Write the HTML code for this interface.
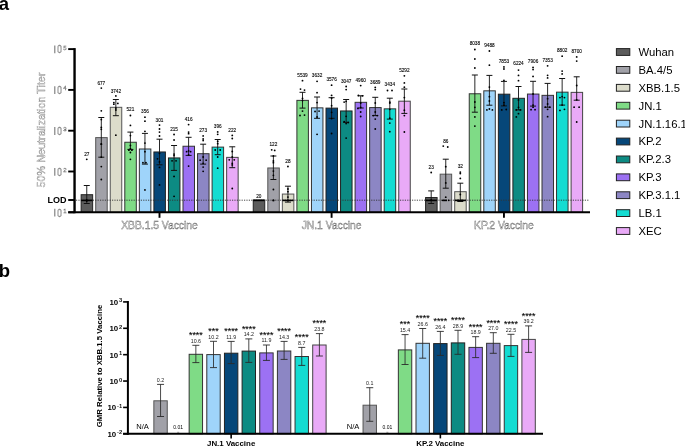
<!DOCTYPE html>
<html><head><meta charset="utf-8"><style>
html,body{margin:0;padding:0;background:#fff;width:685px;height:447px;overflow:hidden}
svg{display:block;will-change:transform}
text{font-family:"Liberation Sans", sans-serif}
</style></head><body>
<svg width="685" height="447" viewBox="0 0 685 447">
<rect width="685" height="447" fill="#fff"/>
<text x="-1.2" y="10.2" font-size="18.5" font-weight="bold" fill="#000">a</text>
<text x="-1.2" y="276.8" font-size="18.5" font-weight="bold" fill="#000">b</text>
<rect x="81.15" y="194.70" width="11.5" height="17.60" fill="#5c5c5c" stroke="#222" stroke-width="1"/>
<rect x="95.70" y="137.61" width="11.5" height="74.69" fill="#a1a1a8" stroke="#555" stroke-width="1"/>
<rect x="110.25" y="107.32" width="11.5" height="104.98" fill="#dcdccb" stroke="#555" stroke-width="1"/>
<rect x="124.80" y="142.25" width="11.5" height="70.05" fill="#7fdb86" stroke="#333" stroke-width="1"/>
<rect x="139.35" y="149.00" width="11.5" height="63.30" fill="#9fd4fa" stroke="#333" stroke-width="1"/>
<rect x="153.90" y="151.97" width="11.5" height="60.33" fill="#064779" stroke="#222" stroke-width="1"/>
<rect x="168.45" y="157.94" width="11.5" height="54.36" fill="#0d8b83" stroke="#222" stroke-width="1"/>
<rect x="183.00" y="146.24" width="11.5" height="66.06" fill="#9c71f3" stroke="#333" stroke-width="1"/>
<rect x="197.55" y="153.70" width="11.5" height="58.60" fill="#8c86c4" stroke="#333" stroke-width="1"/>
<rect x="212.10" y="147.11" width="11.5" height="65.19" fill="#14dcd2" stroke="#333" stroke-width="1"/>
<rect x="226.65" y="157.37" width="11.5" height="54.93" fill="#e9aaf7" stroke="#444" stroke-width="1"/>
<rect x="253.25" y="200.02" width="11.5" height="12.28" fill="#5c5c5c" stroke="#222" stroke-width="1"/>
<rect x="267.80" y="167.98" width="11.5" height="44.32" fill="#a1a1a8" stroke="#555" stroke-width="1"/>
<rect x="282.35" y="194.06" width="11.5" height="18.24" fill="#dcdccb" stroke="#555" stroke-width="1"/>
<rect x="296.90" y="100.37" width="11.5" height="111.93" fill="#7fdb86" stroke="#333" stroke-width="1"/>
<rect x="311.45" y="107.85" width="11.5" height="104.45" fill="#9fd4fa" stroke="#333" stroke-width="1"/>
<rect x="326.00" y="108.12" width="11.5" height="104.18" fill="#064779" stroke="#222" stroke-width="1"/>
<rect x="340.55" y="110.96" width="11.5" height="101.34" fill="#0d8b83" stroke="#222" stroke-width="1"/>
<rect x="355.10" y="102.32" width="11.5" height="109.98" fill="#9c71f3" stroke="#333" stroke-width="1"/>
<rect x="369.65" y="107.57" width="11.5" height="104.73" fill="#8c86c4" stroke="#333" stroke-width="1"/>
<rect x="384.20" y="108.84" width="11.5" height="103.46" fill="#14dcd2" stroke="#333" stroke-width="1"/>
<rect x="398.75" y="101.18" width="11.5" height="111.12" fill="#e9aaf7" stroke="#444" stroke-width="1"/>
<rect x="425.60" y="197.54" width="11.5" height="14.76" fill="#5c5c5c" stroke="#222" stroke-width="1"/>
<rect x="440.15" y="174.17" width="11.5" height="38.13" fill="#a1a1a8" stroke="#555" stroke-width="1"/>
<rect x="454.70" y="191.69" width="11.5" height="20.61" fill="#dcdccb" stroke="#555" stroke-width="1"/>
<rect x="469.25" y="93.77" width="11.5" height="118.53" fill="#7fdb86" stroke="#333" stroke-width="1"/>
<rect x="483.80" y="90.83" width="11.5" height="121.47" fill="#9fd4fa" stroke="#333" stroke-width="1"/>
<rect x="498.35" y="94.18" width="11.5" height="118.12" fill="#064779" stroke="#222" stroke-width="1"/>
<rect x="512.90" y="98.30" width="11.5" height="114.00" fill="#0d8b83" stroke="#222" stroke-width="1"/>
<rect x="527.45" y="94.06" width="11.5" height="118.24" fill="#9c71f3" stroke="#333" stroke-width="1"/>
<rect x="542.00" y="95.35" width="11.5" height="116.95" fill="#8c86c4" stroke="#333" stroke-width="1"/>
<rect x="556.55" y="92.16" width="11.5" height="120.14" fill="#14dcd2" stroke="#333" stroke-width="1"/>
<rect x="571.10" y="92.37" width="11.5" height="119.93" fill="#e9aaf7" stroke="#444" stroke-width="1"/>
<line x1="76" y1="200.2" x2="589" y2="200.2" stroke="#333" stroke-width="0.9" stroke-dasharray="1.2 1.2"/>
<line x1="86.75" y1="185.5" x2="86.75" y2="203.5" stroke="#111" stroke-width="0.9"/>
<line x1="83.75" y1="185.5" x2="89.75" y2="185.5" stroke="#111" stroke-width="1"/>
<line x1="83.75" y1="203.5" x2="89.75" y2="203.5" stroke="#111" stroke-width="1"/>
<circle cx="86.75" cy="159.3" r="0.92" fill="#000"/>
<circle cx="86.75" cy="200" r="0.92" fill="#000"/>
<circle cx="86.75" cy="201" r="0.92" fill="#000"/>
<line x1="81.15" y1="200.4" x2="92.35" y2="200.4" stroke="#000" stroke-width="1.6"/>
<text x="86.75" y="156.20" font-size="4.7" text-anchor="middle" fill="#000" stroke="#000" stroke-width="0.1">27</text>
<line x1="101.30" y1="117.5" x2="101.30" y2="157.2" stroke="#111" stroke-width="0.9"/>
<line x1="98.30" y1="117.5" x2="104.30" y2="117.5" stroke="#111" stroke-width="1"/>
<line x1="98.30" y1="157.2" x2="104.30" y2="157.2" stroke="#111" stroke-width="1"/>
<circle cx="101.30" cy="88.1" r="0.92" fill="#000"/>
<circle cx="101.30" cy="110.8" r="0.92" fill="#000"/>
<circle cx="101.30" cy="119.6" r="0.92" fill="#000"/>
<circle cx="101.30" cy="127.4" r="0.92" fill="#000"/>
<circle cx="101.30" cy="129.3" r="0.92" fill="#000"/>
<circle cx="101.30" cy="143.9" r="0.92" fill="#000"/>
<circle cx="101.30" cy="144.2" r="0.92" fill="#000"/>
<circle cx="101.30" cy="157.2" r="0.92" fill="#000"/>
<circle cx="101.30" cy="166.6" r="0.92" fill="#000"/>
<circle cx="101.30" cy="179.5" r="0.92" fill="#000"/>
<text x="101.30" y="84.70" font-size="4.7" text-anchor="middle" fill="#000" stroke="#000" stroke-width="0.1">677</text>
<line x1="115.85" y1="99.5" x2="115.85" y2="115.7" stroke="#111" stroke-width="0.9"/>
<line x1="112.85" y1="99.5" x2="118.85" y2="99.5" stroke="#111" stroke-width="1"/>
<line x1="112.85" y1="115.7" x2="118.85" y2="115.7" stroke="#111" stroke-width="1"/>
<circle cx="115.85" cy="95.9" r="0.92" fill="#000"/>
<circle cx="113.85" cy="102.6" r="0.92" fill="#000"/>
<circle cx="113.85" cy="104.2" r="0.92" fill="#000"/>
<circle cx="117.85" cy="103.4" r="0.92" fill="#000"/>
<circle cx="115.85" cy="108.1" r="0.92" fill="#000"/>
<circle cx="115.85" cy="135.2" r="0.92" fill="#000"/>
<circle cx="115.85" cy="110" r="0.92" fill="#000"/>
<text x="115.85" y="92.50" font-size="4.7" text-anchor="middle" fill="#000" stroke="#000" stroke-width="0.1">3742</text>
<line x1="130.40" y1="132.1" x2="130.40" y2="149.4" stroke="#111" stroke-width="0.9"/>
<line x1="127.40" y1="132.1" x2="133.40" y2="132.1" stroke="#111" stroke-width="1"/>
<line x1="127.40" y1="149.4" x2="133.40" y2="149.4" stroke="#111" stroke-width="1"/>
<circle cx="130.40" cy="115.5" r="0.92" fill="#000"/>
<circle cx="130.40" cy="125.4" r="0.92" fill="#000"/>
<circle cx="130.40" cy="135.6" r="0.92" fill="#000"/>
<circle cx="130.40" cy="145.5" r="0.92" fill="#000"/>
<circle cx="130.40" cy="148.6" r="0.92" fill="#000"/>
<circle cx="128.90" cy="150.2" r="0.92" fill="#000"/>
<circle cx="131.90" cy="150.2" r="0.92" fill="#000"/>
<circle cx="130.40" cy="152.5" r="0.92" fill="#000"/>
<circle cx="130.40" cy="159.3" r="0.92" fill="#000"/>
<text x="130.40" y="111.30" font-size="4.7" text-anchor="middle" fill="#000" stroke="#000" stroke-width="0.1">521</text>
<line x1="144.95" y1="133.4" x2="144.95" y2="164.1" stroke="#111" stroke-width="0.9"/>
<line x1="141.95" y1="133.4" x2="147.95" y2="133.4" stroke="#111" stroke-width="1"/>
<line x1="141.95" y1="164.1" x2="147.95" y2="164.1" stroke="#111" stroke-width="1"/>
<circle cx="144.95" cy="117.2" r="0.92" fill="#000"/>
<circle cx="144.95" cy="121.2" r="0.92" fill="#000"/>
<circle cx="144.95" cy="131.3" r="0.92" fill="#000"/>
<circle cx="144.95" cy="143.1" r="0.92" fill="#000"/>
<circle cx="144.95" cy="151.7" r="0.92" fill="#000"/>
<circle cx="142.95" cy="162.7" r="0.92" fill="#000"/>
<circle cx="145.95" cy="162.7" r="0.92" fill="#000"/>
<circle cx="144.95" cy="189.9" r="0.92" fill="#000"/>
<text x="144.95" y="112.90" font-size="4.7" text-anchor="middle" fill="#000" stroke="#000" stroke-width="0.1">356</text>
<line x1="159.50" y1="139.2" x2="159.50" y2="164.8" stroke="#111" stroke-width="0.9"/>
<line x1="156.50" y1="139.2" x2="162.50" y2="139.2" stroke="#111" stroke-width="1"/>
<line x1="156.50" y1="164.8" x2="162.50" y2="164.8" stroke="#111" stroke-width="1"/>
<circle cx="159.50" cy="125.1" r="0.92" fill="#000"/>
<circle cx="159.50" cy="129" r="0.92" fill="#000"/>
<circle cx="159.50" cy="132.1" r="0.92" fill="#000"/>
<circle cx="159.50" cy="136" r="0.92" fill="#000"/>
<circle cx="159.50" cy="153.3" r="0.92" fill="#000"/>
<circle cx="157.50" cy="158.8" r="0.92" fill="#000"/>
<circle cx="159.50" cy="161.9" r="0.92" fill="#000"/>
<circle cx="159.50" cy="167.4" r="0.92" fill="#000"/>
<circle cx="159.50" cy="184.9" r="0.92" fill="#000"/>
<text x="159.50" y="121.50" font-size="4.7" text-anchor="middle" fill="#000" stroke="#000" stroke-width="0.1">301</text>
<line x1="174.05" y1="145.5" x2="174.05" y2="170.4" stroke="#111" stroke-width="0.9"/>
<line x1="171.05" y1="145.5" x2="177.05" y2="145.5" stroke="#111" stroke-width="1"/>
<line x1="171.05" y1="170.4" x2="177.05" y2="170.4" stroke="#111" stroke-width="1"/>
<circle cx="174.05" cy="134.5" r="0.92" fill="#000"/>
<circle cx="174.05" cy="140" r="0.92" fill="#000"/>
<circle cx="174.05" cy="154.1" r="0.92" fill="#000"/>
<circle cx="174.05" cy="155.6" r="0.92" fill="#000"/>
<circle cx="172.05" cy="160.8" r="0.92" fill="#000"/>
<circle cx="176.05" cy="160.8" r="0.92" fill="#000"/>
<circle cx="174.05" cy="176.4" r="0.92" fill="#000"/>
<circle cx="174.05" cy="196.3" r="0.92" fill="#000"/>
<text x="174.05" y="131.10" font-size="4.7" text-anchor="middle" fill="#000" stroke="#000" stroke-width="0.1">215</text>
<line x1="188.60" y1="137.3" x2="188.60" y2="155.4" stroke="#111" stroke-width="0.9"/>
<line x1="185.60" y1="137.3" x2="191.60" y2="137.3" stroke="#111" stroke-width="1"/>
<line x1="185.60" y1="155.4" x2="191.60" y2="155.4" stroke="#111" stroke-width="1"/>
<circle cx="188.60" cy="124.6" r="0.92" fill="#000"/>
<circle cx="188.60" cy="132.1" r="0.92" fill="#000"/>
<circle cx="188.60" cy="133.7" r="0.92" fill="#000"/>
<circle cx="188.60" cy="150.9" r="0.92" fill="#000"/>
<circle cx="186.60" cy="151.7" r="0.92" fill="#000"/>
<circle cx="190.60" cy="151.7" r="0.92" fill="#000"/>
<circle cx="188.60" cy="154.9" r="0.92" fill="#000"/>
<circle cx="188.60" cy="166.1" r="0.92" fill="#000"/>
<text x="188.60" y="120.70" font-size="4.7" text-anchor="middle" fill="#000" stroke="#000" stroke-width="0.1">416</text>
<line x1="203.15" y1="144.2" x2="203.15" y2="164.1" stroke="#111" stroke-width="0.9"/>
<line x1="200.15" y1="144.2" x2="206.15" y2="144.2" stroke="#111" stroke-width="1"/>
<line x1="200.15" y1="164.1" x2="206.15" y2="164.1" stroke="#111" stroke-width="1"/>
<circle cx="203.15" cy="135.9" r="0.92" fill="#000"/>
<circle cx="203.15" cy="139" r="0.92" fill="#000"/>
<circle cx="203.15" cy="140.6" r="0.92" fill="#000"/>
<circle cx="203.15" cy="157" r="0.92" fill="#000"/>
<circle cx="200.15" cy="160.2" r="0.92" fill="#000"/>
<circle cx="206.15" cy="160.2" r="0.92" fill="#000"/>
<circle cx="203.15" cy="163.3" r="0.92" fill="#000"/>
<circle cx="203.15" cy="167.1" r="0.92" fill="#000"/>
<circle cx="203.15" cy="171.3" r="0.92" fill="#000"/>
<text x="203.15" y="132.40" font-size="4.7" text-anchor="middle" fill="#000" stroke="#000" stroke-width="0.1">273</text>
<line x1="217.70" y1="139.5" x2="217.70" y2="154.7" stroke="#111" stroke-width="0.9"/>
<line x1="214.70" y1="139.5" x2="220.70" y2="139.5" stroke="#111" stroke-width="1"/>
<line x1="214.70" y1="154.7" x2="220.70" y2="154.7" stroke="#111" stroke-width="1"/>
<circle cx="217.70" cy="131.9" r="0.92" fill="#000"/>
<circle cx="217.70" cy="134.3" r="0.92" fill="#000"/>
<circle cx="217.70" cy="141.3" r="0.92" fill="#000"/>
<circle cx="217.70" cy="143.7" r="0.92" fill="#000"/>
<circle cx="215.20" cy="150" r="0.92" fill="#000"/>
<circle cx="220.20" cy="150" r="0.92" fill="#000"/>
<circle cx="217.70" cy="157" r="0.92" fill="#000"/>
<circle cx="217.70" cy="168.2" r="0.92" fill="#000"/>
<text x="217.70" y="127.70" font-size="4.7" text-anchor="middle" fill="#000" stroke="#000" stroke-width="0.1">396</text>
<line x1="232.25" y1="146.8" x2="232.25" y2="167.7" stroke="#111" stroke-width="0.9"/>
<line x1="229.25" y1="146.8" x2="235.25" y2="146.8" stroke="#111" stroke-width="1"/>
<line x1="229.25" y1="167.7" x2="235.25" y2="167.7" stroke="#111" stroke-width="1"/>
<circle cx="232.25" cy="135.4" r="0.92" fill="#000"/>
<circle cx="232.25" cy="138.5" r="0.92" fill="#000"/>
<circle cx="232.25" cy="151.5" r="0.92" fill="#000"/>
<circle cx="232.25" cy="157" r="0.92" fill="#000"/>
<circle cx="229.25" cy="159.8" r="0.92" fill="#000"/>
<circle cx="234.25" cy="159.8" r="0.92" fill="#000"/>
<circle cx="232.25" cy="163.3" r="0.92" fill="#000"/>
<circle cx="232.25" cy="164.9" r="0.92" fill="#000"/>
<circle cx="232.25" cy="188.5" r="0.92" fill="#000"/>
<text x="232.25" y="131.70" font-size="4.7" text-anchor="middle" fill="#000" stroke="#000" stroke-width="0.1">222</text>
<line x1="253.25" y1="200.4" x2="264.45" y2="200.4" stroke="#000" stroke-width="1.6"/>
<text x="258.85" y="197.80" font-size="4.7" text-anchor="middle" fill="#000" stroke="#000" stroke-width="0.1">20</text>
<line x1="273.40" y1="156" x2="273.40" y2="179.5" stroke="#111" stroke-width="0.9"/>
<line x1="270.40" y1="156" x2="276.40" y2="156" stroke="#111" stroke-width="1"/>
<line x1="270.40" y1="179.5" x2="276.40" y2="179.5" stroke="#111" stroke-width="1"/>
<circle cx="271.70" cy="149.8" r="0.92" fill="#000"/>
<circle cx="274.70" cy="150.4" r="0.92" fill="#000"/>
<circle cx="273.40" cy="156" r="0.92" fill="#000"/>
<circle cx="273.40" cy="161" r="0.92" fill="#000"/>
<circle cx="273.40" cy="162.7" r="0.92" fill="#000"/>
<circle cx="273.40" cy="171.1" r="0.92" fill="#000"/>
<circle cx="273.40" cy="175.3" r="0.92" fill="#000"/>
<circle cx="273.40" cy="189.5" r="0.92" fill="#000"/>
<circle cx="273.40" cy="200.4" r="0.92" fill="#000"/>
<line x1="272.50" y1="200.4" x2="274.30" y2="200.4" stroke="#000" stroke-width="1.6"/>
<text x="273.40" y="145.80" font-size="4.7" text-anchor="middle" fill="#000" stroke="#000" stroke-width="0.1">122</text>
<line x1="287.95" y1="186.2" x2="287.95" y2="202.1" stroke="#111" stroke-width="0.9"/>
<line x1="284.95" y1="186.2" x2="290.95" y2="186.2" stroke="#111" stroke-width="1"/>
<line x1="284.95" y1="202.1" x2="290.95" y2="202.1" stroke="#111" stroke-width="1"/>
<circle cx="287.95" cy="166.5" r="0.92" fill="#000"/>
<circle cx="287.95" cy="189" r="0.92" fill="#000"/>
<circle cx="287.95" cy="191.7" r="0.92" fill="#000"/>
<circle cx="287.95" cy="197.1" r="0.92" fill="#000"/>
<circle cx="287.95" cy="200.4" r="0.92" fill="#000"/>
<line x1="282.35" y1="200.4" x2="293.55" y2="200.4" stroke="#000" stroke-width="1.6"/>
<text x="287.95" y="163.40" font-size="4.7" text-anchor="middle" fill="#000" stroke="#000" stroke-width="0.1">28</text>
<line x1="302.50" y1="92.3" x2="302.50" y2="108.1" stroke="#111" stroke-width="0.9"/>
<line x1="299.50" y1="92.3" x2="305.50" y2="92.3" stroke="#111" stroke-width="1"/>
<line x1="299.50" y1="108.1" x2="305.50" y2="108.1" stroke="#111" stroke-width="1"/>
<circle cx="302.50" cy="80.7" r="0.92" fill="#000"/>
<circle cx="300.50" cy="89.1" r="0.92" fill="#000"/>
<circle cx="304.50" cy="90.1" r="0.92" fill="#000"/>
<circle cx="302.50" cy="98.5" r="0.92" fill="#000"/>
<circle cx="302.50" cy="100.6" r="0.92" fill="#000"/>
<circle cx="302.50" cy="111.1" r="0.92" fill="#000"/>
<circle cx="300.00" cy="115.5" r="0.92" fill="#000"/>
<circle cx="304.50" cy="115.1" r="0.92" fill="#000"/>
<text x="302.50" y="76.60" font-size="4.7" text-anchor="middle" fill="#000" stroke="#000" stroke-width="0.1">5539</text>
<line x1="317.05" y1="97" x2="317.05" y2="118.3" stroke="#111" stroke-width="0.9"/>
<line x1="314.05" y1="97" x2="320.05" y2="97" stroke="#111" stroke-width="1"/>
<line x1="314.05" y1="118.3" x2="320.05" y2="118.3" stroke="#111" stroke-width="1"/>
<circle cx="317.05" cy="81.3" r="0.92" fill="#000"/>
<circle cx="317.05" cy="92.7" r="0.92" fill="#000"/>
<circle cx="317.05" cy="102.6" r="0.92" fill="#000"/>
<circle cx="315.05" cy="111.5" r="0.92" fill="#000"/>
<circle cx="319.05" cy="111.1" r="0.92" fill="#000"/>
<circle cx="317.05" cy="117" r="0.92" fill="#000"/>
<circle cx="317.05" cy="134.3" r="0.92" fill="#000"/>
<text x="317.05" y="77.40" font-size="4.7" text-anchor="middle" fill="#000" stroke="#000" stroke-width="0.1">3632</text>
<line x1="331.60" y1="97.7" x2="331.60" y2="118.3" stroke="#111" stroke-width="0.9"/>
<line x1="328.60" y1="97.7" x2="334.60" y2="97.7" stroke="#111" stroke-width="1"/>
<line x1="328.60" y1="118.3" x2="334.60" y2="118.3" stroke="#111" stroke-width="1"/>
<circle cx="331.60" cy="85.2" r="0.92" fill="#000"/>
<circle cx="331.60" cy="95.4" r="0.92" fill="#000"/>
<circle cx="331.60" cy="98.2" r="0.92" fill="#000"/>
<circle cx="331.60" cy="105.7" r="0.92" fill="#000"/>
<circle cx="331.60" cy="112.3" r="0.92" fill="#000"/>
<circle cx="331.60" cy="118.6" r="0.92" fill="#000"/>
<circle cx="331.60" cy="133.5" r="0.92" fill="#000"/>
<text x="331.60" y="81.00" font-size="4.7" text-anchor="middle" fill="#000" stroke="#000" stroke-width="0.1">3576</text>
<line x1="346.15" y1="99.5" x2="346.15" y2="122.4" stroke="#111" stroke-width="0.9"/>
<line x1="343.15" y1="99.5" x2="349.15" y2="99.5" stroke="#111" stroke-width="1"/>
<line x1="343.15" y1="122.4" x2="349.15" y2="122.4" stroke="#111" stroke-width="1"/>
<circle cx="346.15" cy="86.5" r="0.92" fill="#000"/>
<circle cx="346.15" cy="89.6" r="0.92" fill="#000"/>
<circle cx="346.15" cy="101.3" r="0.92" fill="#000"/>
<circle cx="344.15" cy="102.1" r="0.92" fill="#000"/>
<circle cx="346.15" cy="116.3" r="0.92" fill="#000"/>
<circle cx="344.15" cy="121.7" r="0.92" fill="#000"/>
<circle cx="348.15" cy="122.5" r="0.92" fill="#000"/>
<circle cx="346.15" cy="123.6" r="0.92" fill="#000"/>
<circle cx="346.15" cy="138.1" r="0.92" fill="#000"/>
<text x="346.15" y="82.60" font-size="4.7" text-anchor="middle" fill="#000" stroke="#000" stroke-width="0.1">3047</text>
<line x1="360.70" y1="95.8" x2="360.70" y2="108" stroke="#111" stroke-width="0.9"/>
<line x1="357.70" y1="95.8" x2="363.70" y2="95.8" stroke="#111" stroke-width="1"/>
<line x1="357.70" y1="108" x2="363.70" y2="108" stroke="#111" stroke-width="1"/>
<circle cx="360.70" cy="85.6" r="0.92" fill="#000"/>
<circle cx="358.40" cy="95.5" r="0.92" fill="#000"/>
<circle cx="362.40" cy="95.8" r="0.92" fill="#000"/>
<circle cx="360.70" cy="103" r="0.92" fill="#000"/>
<circle cx="360.70" cy="107.5" r="0.92" fill="#000"/>
<circle cx="357.90" cy="108.4" r="0.92" fill="#000"/>
<circle cx="360.70" cy="112" r="0.92" fill="#000"/>
<circle cx="360.70" cy="116.5" r="0.92" fill="#000"/>
<text x="360.70" y="81.90" font-size="4.7" text-anchor="middle" fill="#000" stroke="#000" stroke-width="0.1">4960</text>
<line x1="375.25" y1="97.3" x2="375.25" y2="115.6" stroke="#111" stroke-width="0.9"/>
<line x1="372.25" y1="97.3" x2="378.25" y2="97.3" stroke="#111" stroke-width="1"/>
<line x1="372.25" y1="115.6" x2="378.25" y2="115.6" stroke="#111" stroke-width="1"/>
<circle cx="375.25" cy="87.4" r="0.92" fill="#000"/>
<circle cx="375.25" cy="89.6" r="0.92" fill="#000"/>
<circle cx="375.25" cy="103" r="0.92" fill="#000"/>
<circle cx="375.25" cy="112" r="0.92" fill="#000"/>
<circle cx="373.25" cy="115.6" r="0.92" fill="#000"/>
<circle cx="377.25" cy="115.6" r="0.92" fill="#000"/>
<circle cx="375.25" cy="119.1" r="0.92" fill="#000"/>
<circle cx="375.25" cy="129" r="0.92" fill="#000"/>
<text x="375.25" y="83.50" font-size="4.7" text-anchor="middle" fill="#000" stroke="#000" stroke-width="0.1">3689</text>
<line x1="389.80" y1="98.2" x2="389.80" y2="119.1" stroke="#111" stroke-width="0.9"/>
<line x1="386.80" y1="98.2" x2="392.80" y2="98.2" stroke="#111" stroke-width="1"/>
<line x1="386.80" y1="119.1" x2="392.80" y2="119.1" stroke="#111" stroke-width="1"/>
<circle cx="387.50" cy="90.5" r="0.92" fill="#000"/>
<circle cx="392.00" cy="90.5" r="0.92" fill="#000"/>
<circle cx="389.80" cy="102.1" r="0.92" fill="#000"/>
<circle cx="389.80" cy="103" r="0.92" fill="#000"/>
<circle cx="389.80" cy="109.3" r="0.92" fill="#000"/>
<circle cx="389.80" cy="118.2" r="0.92" fill="#000"/>
<circle cx="389.80" cy="123.1" r="0.92" fill="#000"/>
<circle cx="389.80" cy="131.7" r="0.92" fill="#000"/>
<text x="389.80" y="86.30" font-size="4.7" text-anchor="middle" fill="#000" stroke="#000" stroke-width="0.1">3434</text>
<line x1="404.35" y1="89" x2="404.35" y2="113.4" stroke="#111" stroke-width="0.9"/>
<line x1="401.35" y1="89" x2="407.35" y2="89" stroke="#111" stroke-width="1"/>
<line x1="401.35" y1="113.4" x2="407.35" y2="113.4" stroke="#111" stroke-width="1"/>
<circle cx="404.35" cy="75.8" r="0.92" fill="#000"/>
<circle cx="404.35" cy="82.9" r="0.92" fill="#000"/>
<circle cx="404.35" cy="87.2" r="0.92" fill="#000"/>
<circle cx="404.35" cy="97.6" r="0.92" fill="#000"/>
<circle cx="404.35" cy="110.2" r="0.92" fill="#000"/>
<circle cx="404.35" cy="115.6" r="0.92" fill="#000"/>
<circle cx="404.35" cy="132" r="0.92" fill="#000"/>
<text x="404.35" y="71.80" font-size="4.7" text-anchor="middle" fill="#000" stroke="#000" stroke-width="0.1">5292</text>
<line x1="431.20" y1="190.9" x2="431.20" y2="203.5" stroke="#111" stroke-width="0.9"/>
<line x1="428.20" y1="190.9" x2="434.20" y2="190.9" stroke="#111" stroke-width="1"/>
<line x1="428.20" y1="203.5" x2="434.20" y2="203.5" stroke="#111" stroke-width="1"/>
<circle cx="431.20" cy="172.5" r="0.92" fill="#000"/>
<circle cx="431.20" cy="200" r="0.92" fill="#000"/>
<line x1="425.60" y1="200.4" x2="436.80" y2="200.4" stroke="#000" stroke-width="1.6"/>
<text x="431.20" y="168.90" font-size="4.7" text-anchor="middle" fill="#000" stroke="#000" stroke-width="0.1">23</text>
<line x1="445.75" y1="159.2" x2="445.75" y2="188.2" stroke="#111" stroke-width="0.9"/>
<line x1="442.75" y1="159.2" x2="448.75" y2="159.2" stroke="#111" stroke-width="1"/>
<line x1="442.75" y1="188.2" x2="448.75" y2="188.2" stroke="#111" stroke-width="1"/>
<circle cx="443.25" cy="146.1" r="0.92" fill="#000"/>
<circle cx="447.75" cy="147" r="0.92" fill="#000"/>
<circle cx="445.75" cy="166.7" r="0.92" fill="#000"/>
<circle cx="445.75" cy="182.9" r="0.92" fill="#000"/>
<circle cx="445.75" cy="197.2" r="0.92" fill="#000"/>
<circle cx="442.75" cy="200.3" r="0.92" fill="#000"/>
<circle cx="448.75" cy="200.3" r="0.92" fill="#000"/>
<line x1="443.15" y1="200.4" x2="446.95" y2="200.4" stroke="#000" stroke-width="1.6"/>
<text x="445.75" y="142.90" font-size="4.7" text-anchor="middle" fill="#000" stroke="#000" stroke-width="0.1">86</text>
<line x1="460.30" y1="183.2" x2="460.30" y2="201.5" stroke="#111" stroke-width="0.9"/>
<line x1="457.30" y1="183.2" x2="463.30" y2="183.2" stroke="#111" stroke-width="1"/>
<line x1="457.30" y1="201.5" x2="463.30" y2="201.5" stroke="#111" stroke-width="1"/>
<circle cx="460.30" cy="172.1" r="0.92" fill="#000"/>
<circle cx="460.30" cy="173.5" r="0.92" fill="#000"/>
<circle cx="460.30" cy="178.4" r="0.92" fill="#000"/>
<circle cx="460.30" cy="194.5" r="0.92" fill="#000"/>
<circle cx="458.00" cy="200.3" r="0.92" fill="#000"/>
<circle cx="462.00" cy="200.3" r="0.92" fill="#000"/>
<line x1="454.70" y1="200.4" x2="465.90" y2="200.4" stroke="#000" stroke-width="1.6"/>
<text x="460.30" y="168.30" font-size="4.7" text-anchor="middle" fill="#000" stroke="#000" stroke-width="0.1">32</text>
<line x1="474.85" y1="75" x2="474.85" y2="112.2" stroke="#111" stroke-width="0.9"/>
<line x1="471.85" y1="75" x2="477.85" y2="75" stroke="#111" stroke-width="1"/>
<line x1="471.85" y1="112.2" x2="477.85" y2="112.2" stroke="#111" stroke-width="1"/>
<circle cx="474.85" cy="49.5" r="0.92" fill="#000"/>
<circle cx="474.85" cy="59" r="0.92" fill="#000"/>
<circle cx="474.85" cy="68" r="0.92" fill="#000"/>
<circle cx="474.85" cy="102" r="0.92" fill="#000"/>
<circle cx="474.85" cy="107.3" r="0.92" fill="#000"/>
<circle cx="474.85" cy="116.9" r="0.92" fill="#000"/>
<circle cx="474.85" cy="126.1" r="0.92" fill="#000"/>
<text x="474.85" y="45.10" font-size="4.7" text-anchor="middle" fill="#000" stroke="#000" stroke-width="0.1">8038</text>
<line x1="489.40" y1="75.4" x2="489.40" y2="105.2" stroke="#111" stroke-width="0.9"/>
<line x1="486.40" y1="75.4" x2="492.40" y2="75.4" stroke="#111" stroke-width="1"/>
<line x1="486.40" y1="105.2" x2="492.40" y2="105.2" stroke="#111" stroke-width="1"/>
<circle cx="489.40" cy="51" r="0.92" fill="#000"/>
<circle cx="489.40" cy="65.2" r="0.92" fill="#000"/>
<circle cx="489.40" cy="87.1" r="0.92" fill="#000"/>
<circle cx="489.40" cy="96.7" r="0.92" fill="#000"/>
<circle cx="489.40" cy="101" r="0.92" fill="#000"/>
<circle cx="486.90" cy="109.9" r="0.92" fill="#000"/>
<circle cx="489.40" cy="109" r="0.92" fill="#000"/>
<circle cx="492.40" cy="109.9" r="0.92" fill="#000"/>
<text x="489.40" y="46.80" font-size="4.7" text-anchor="middle" fill="#000" stroke="#000" stroke-width="0.1">9488</text>
<line x1="503.95" y1="81.4" x2="503.95" y2="105.9" stroke="#111" stroke-width="0.9"/>
<line x1="500.95" y1="81.4" x2="506.95" y2="81.4" stroke="#111" stroke-width="1"/>
<line x1="500.95" y1="105.9" x2="506.95" y2="105.9" stroke="#111" stroke-width="1"/>
<circle cx="503.95" cy="66.9" r="0.92" fill="#000"/>
<circle cx="503.95" cy="69" r="0.92" fill="#000"/>
<circle cx="503.95" cy="80.3" r="0.92" fill="#000"/>
<circle cx="503.95" cy="102.7" r="0.92" fill="#000"/>
<circle cx="503.95" cy="105.2" r="0.92" fill="#000"/>
<circle cx="501.75" cy="109.9" r="0.92" fill="#000"/>
<circle cx="506.25" cy="109.5" r="0.92" fill="#000"/>
<text x="503.95" y="63.20" font-size="4.7" text-anchor="middle" fill="#000" stroke="#000" stroke-width="0.1">7853</text>
<line x1="518.50" y1="86.5" x2="518.50" y2="109.9" stroke="#111" stroke-width="0.9"/>
<line x1="515.50" y1="86.5" x2="521.50" y2="86.5" stroke="#111" stroke-width="1"/>
<line x1="515.50" y1="109.9" x2="521.50" y2="109.9" stroke="#111" stroke-width="1"/>
<circle cx="518.50" cy="70.1" r="0.92" fill="#000"/>
<circle cx="518.50" cy="75.4" r="0.92" fill="#000"/>
<circle cx="518.50" cy="80.7" r="0.92" fill="#000"/>
<circle cx="518.50" cy="99.9" r="0.92" fill="#000"/>
<circle cx="518.50" cy="107.3" r="0.92" fill="#000"/>
<circle cx="516.30" cy="109.9" r="0.92" fill="#000"/>
<circle cx="520.30" cy="109.9" r="0.92" fill="#000"/>
<circle cx="518.50" cy="113.7" r="0.92" fill="#000"/>
<circle cx="516.30" cy="116.9" r="0.92" fill="#000"/>
<text x="518.50" y="65.30" font-size="4.7" text-anchor="middle" fill="#000" stroke="#000" stroke-width="0.1">6224</text>
<line x1="533.05" y1="81.3" x2="533.05" y2="106.1" stroke="#111" stroke-width="0.9"/>
<line x1="530.05" y1="81.3" x2="536.05" y2="81.3" stroke="#111" stroke-width="1"/>
<line x1="530.05" y1="106.1" x2="536.05" y2="106.1" stroke="#111" stroke-width="1"/>
<circle cx="533.05" cy="67.5" r="0.92" fill="#000"/>
<circle cx="533.05" cy="69.6" r="0.92" fill="#000"/>
<circle cx="533.05" cy="76.4" r="0.92" fill="#000"/>
<circle cx="533.05" cy="94" r="0.92" fill="#000"/>
<circle cx="533.05" cy="105.1" r="0.92" fill="#000"/>
<circle cx="531.05" cy="109.7" r="0.92" fill="#000"/>
<circle cx="535.05" cy="109.7" r="0.92" fill="#000"/>
<circle cx="533.05" cy="107.2" r="0.92" fill="#000"/>
<text x="533.05" y="63.10" font-size="4.7" text-anchor="middle" fill="#000" stroke="#000" stroke-width="0.1">7906</text>
<line x1="547.60" y1="83.4" x2="547.60" y2="107.2" stroke="#111" stroke-width="0.9"/>
<line x1="544.60" y1="83.4" x2="550.60" y2="83.4" stroke="#111" stroke-width="1"/>
<line x1="544.60" y1="107.2" x2="550.60" y2="107.2" stroke="#111" stroke-width="1"/>
<circle cx="547.60" cy="65.8" r="0.92" fill="#000"/>
<circle cx="547.60" cy="75.3" r="0.92" fill="#000"/>
<circle cx="547.60" cy="77.9" r="0.92" fill="#000"/>
<circle cx="547.60" cy="98.7" r="0.92" fill="#000"/>
<circle cx="547.60" cy="104" r="0.92" fill="#000"/>
<circle cx="545.30" cy="107.2" r="0.92" fill="#000"/>
<circle cx="549.80" cy="107.2" r="0.92" fill="#000"/>
<circle cx="547.60" cy="109.3" r="0.92" fill="#000"/>
<circle cx="547.60" cy="116.7" r="0.92" fill="#000"/>
<text x="547.60" y="61.60" font-size="4.7" text-anchor="middle" fill="#000" stroke="#000" stroke-width="0.1">7353</text>
<line x1="562.15" y1="78.5" x2="562.15" y2="105.1" stroke="#111" stroke-width="0.9"/>
<line x1="559.15" y1="78.5" x2="565.15" y2="78.5" stroke="#111" stroke-width="1"/>
<line x1="559.15" y1="105.1" x2="565.15" y2="105.1" stroke="#111" stroke-width="1"/>
<circle cx="562.15" cy="56.2" r="0.92" fill="#000"/>
<circle cx="562.15" cy="71.1" r="0.92" fill="#000"/>
<circle cx="562.15" cy="73.9" r="0.92" fill="#000"/>
<circle cx="562.15" cy="96.6" r="0.92" fill="#000"/>
<circle cx="559.95" cy="97.6" r="0.92" fill="#000"/>
<circle cx="564.45" cy="97.6" r="0.92" fill="#000"/>
<circle cx="562.15" cy="105.1" r="0.92" fill="#000"/>
<circle cx="559.95" cy="110.4" r="0.92" fill="#000"/>
<circle cx="564.45" cy="109.3" r="0.92" fill="#000"/>
<text x="562.15" y="52.10" font-size="4.7" text-anchor="middle" fill="#000" stroke="#000" stroke-width="0.1">8802</text>
<line x1="576.70" y1="76.8" x2="576.70" y2="100.2" stroke="#111" stroke-width="0.9"/>
<line x1="573.70" y1="76.8" x2="579.70" y2="76.8" stroke="#111" stroke-width="1"/>
<line x1="573.70" y1="100.2" x2="579.70" y2="100.2" stroke="#111" stroke-width="1"/>
<circle cx="576.70" cy="56.9" r="0.92" fill="#000"/>
<circle cx="576.70" cy="61.1" r="0.92" fill="#000"/>
<circle cx="576.70" cy="85.5" r="0.92" fill="#000"/>
<circle cx="576.70" cy="99.8" r="0.92" fill="#000"/>
<circle cx="574.10" cy="107.2" r="0.92" fill="#000"/>
<circle cx="579.10" cy="107.2" r="0.92" fill="#000"/>
<circle cx="576.70" cy="122" r="0.92" fill="#000"/>
<text x="576.70" y="52.50" font-size="4.7" text-anchor="middle" fill="#000" stroke="#000" stroke-width="0.1">8700</text>
<line x1="74.55" y1="48.1" x2="74.55" y2="213.2" stroke="#000" stroke-width="2.4"/>
<line x1="68.3" y1="212.2" x2="590" y2="212.2" stroke="#000" stroke-width="1.9"/>
<line x1="68.2" y1="212.30" x2="74.55" y2="212.30" stroke="#000" stroke-width="1.9"/>
<line x1="54.8" y1="208.70" x2="54.8" y2="216.50" stroke="#777" stroke-width="1.1"/>
<text transform="translate(57.0,216.50) scale(0.84,1)" font-size="10.8" fill="#fff" stroke="#6a6a6a" stroke-width="0.45">0</text>
<text x="63.3" y="212.80" font-size="6.0" fill="#fff" stroke="#6a6a6a" stroke-width="0.35">1</text>
<line x1="68.2" y1="171.50" x2="74.55" y2="171.50" stroke="#000" stroke-width="1.9"/>
<line x1="54.8" y1="167.90" x2="54.8" y2="175.70" stroke="#777" stroke-width="1.1"/>
<text transform="translate(57.0,175.70) scale(0.84,1)" font-size="10.8" fill="#fff" stroke="#6a6a6a" stroke-width="0.45">0</text>
<text x="63.3" y="172.00" font-size="6.0" fill="#fff" stroke="#6a6a6a" stroke-width="0.35">2</text>
<line x1="68.2" y1="130.70" x2="74.55" y2="130.70" stroke="#000" stroke-width="1.9"/>
<line x1="54.8" y1="127.10" x2="54.8" y2="134.90" stroke="#777" stroke-width="1.1"/>
<text transform="translate(57.0,134.90) scale(0.84,1)" font-size="10.8" fill="#fff" stroke="#6a6a6a" stroke-width="0.45">0</text>
<text x="63.3" y="131.20" font-size="6.0" fill="#fff" stroke="#6a6a6a" stroke-width="0.35">3</text>
<line x1="68.2" y1="89.90" x2="74.55" y2="89.90" stroke="#000" stroke-width="1.9"/>
<line x1="54.8" y1="86.30" x2="54.8" y2="94.10" stroke="#777" stroke-width="1.1"/>
<text transform="translate(57.0,94.10) scale(0.84,1)" font-size="10.8" fill="#fff" stroke="#6a6a6a" stroke-width="0.45">0</text>
<text x="63.3" y="90.40" font-size="6.0" fill="#fff" stroke="#6a6a6a" stroke-width="0.35">4</text>
<line x1="68.2" y1="49.10" x2="74.55" y2="49.10" stroke="#000" stroke-width="1.9"/>
<line x1="54.8" y1="45.50" x2="54.8" y2="53.30" stroke="#777" stroke-width="1.1"/>
<text transform="translate(57.0,53.30) scale(0.84,1)" font-size="10.8" fill="#fff" stroke="#6a6a6a" stroke-width="0.45">0</text>
<text x="63.3" y="49.60" font-size="6.0" fill="#fff" stroke="#6a6a6a" stroke-width="0.35">5</text>
<line x1="68.2" y1="200" x2="74.55" y2="200" stroke="#000" stroke-width="1.9"/>
<text x="47.6" y="203.3" font-size="9" font-weight="bold" fill="#000">LOD</text>
<line x1="159.50" y1="212" x2="159.50" y2="217.8" stroke="#000" stroke-width="1.9"/>
<text x="159.50" y="228.6" font-size="10.3" text-anchor="middle" fill="#fff" stroke="#666" stroke-width="0.42">XBB.1.5 Vaccine</text>
<line x1="331.60" y1="212" x2="331.60" y2="217.8" stroke="#000" stroke-width="1.9"/>
<text x="331.60" y="228.6" font-size="10.3" text-anchor="middle" fill="#fff" stroke="#666" stroke-width="0.42">JN.1 Vaccine</text>
<line x1="503.95" y1="212" x2="503.95" y2="217.8" stroke="#000" stroke-width="1.9"/>
<text x="503.95" y="228.6" font-size="10.3" text-anchor="middle" fill="#fff" stroke="#666" stroke-width="0.42">KP.2 Vaccine</text>
<text transform="translate(45.2,130) rotate(-90) scale(1.063,1)" font-size="10.2" text-anchor="middle" fill="#fff" stroke="#7c7c7c" stroke-width="0.36">50% Neutralization Titer</text>
<rect x="616.4" y="48.60" width="13.4" height="6.8" fill="#5c5c5c" stroke="#222" stroke-width="1"/>
<text x="638.5" y="55.90" font-size="11.3" fill="#000">Wuhan</text>
<rect x="616.4" y="66.50" width="13.4" height="6.8" fill="#a1a1a8" stroke="#222" stroke-width="1"/>
<text x="638.5" y="73.80" font-size="11.3" fill="#000">BA.4/5</text>
<rect x="616.4" y="84.40" width="13.4" height="6.8" fill="#dcdccb" stroke="#222" stroke-width="1"/>
<text x="638.5" y="91.70" font-size="11.3" fill="#000">XBB.1.5</text>
<rect x="616.4" y="102.30" width="13.4" height="6.8" fill="#7fdb86" stroke="#222" stroke-width="1"/>
<text x="638.5" y="109.60" font-size="11.3" fill="#000">JN.1</text>
<rect x="616.4" y="120.20" width="13.4" height="6.8" fill="#9fd4fa" stroke="#222" stroke-width="1"/>
<text x="638.5" y="127.50" font-size="11.3" fill="#000">JN.1.16.1</text>
<rect x="616.4" y="138.10" width="13.4" height="6.8" fill="#064779" stroke="#222" stroke-width="1"/>
<text x="638.5" y="145.40" font-size="11.3" fill="#000">KP.2</text>
<rect x="616.4" y="156.00" width="13.4" height="6.8" fill="#0d8b83" stroke="#222" stroke-width="1"/>
<text x="638.5" y="163.30" font-size="11.3" fill="#000">KP.2.3</text>
<rect x="616.4" y="173.90" width="13.4" height="6.8" fill="#9c71f3" stroke="#222" stroke-width="1"/>
<text x="638.5" y="181.20" font-size="11.3" fill="#000">KP.3</text>
<rect x="616.4" y="191.80" width="13.4" height="6.8" fill="#8c86c4" stroke="#222" stroke-width="1"/>
<text x="638.5" y="199.10" font-size="11.3" fill="#000">KP.3.1.1</text>
<rect x="616.4" y="209.70" width="13.4" height="6.8" fill="#14dcd2" stroke="#222" stroke-width="1"/>
<text x="638.5" y="217.00" font-size="11.3" fill="#000">LB.1</text>
<rect x="616.4" y="227.60" width="13.4" height="6.8" fill="#e9aaf7" stroke="#222" stroke-width="1"/>
<text x="638.5" y="234.90" font-size="11.3" fill="#000">XEC</text>
<text x="142.60" y="429.3" font-size="7.6" text-anchor="middle" fill="#000">N/A</text>
<rect x="153.85" y="400.80" width="13.4" height="33.00" fill="#a1a1a8" stroke="#555" stroke-width="1"/>
<text x="178.20" y="429.2" font-size="5" text-anchor="middle" fill="#000">0.01</text>
<line x1="177.20" y1="432.3" x2="179.20" y2="432.3" stroke="#666" stroke-width="0.6"/>
<rect x="189.15" y="354.30" width="13.4" height="79.50" fill="#7fdb86" stroke="#333" stroke-width="1"/>
<rect x="206.80" y="354.60" width="13.4" height="79.20" fill="#9fd4fa" stroke="#333" stroke-width="1"/>
<rect x="224.45" y="353.20" width="13.4" height="80.60" fill="#064779" stroke="#222" stroke-width="1"/>
<rect x="242.10" y="351.10" width="13.4" height="82.70" fill="#0d8b83" stroke="#222" stroke-width="1"/>
<rect x="259.75" y="352.90" width="13.4" height="80.90" fill="#9c71f3" stroke="#333" stroke-width="1"/>
<rect x="277.40" y="351.00" width="13.4" height="82.80" fill="#8c86c4" stroke="#333" stroke-width="1"/>
<rect x="295.05" y="356.50" width="13.4" height="77.30" fill="#14dcd2" stroke="#333" stroke-width="1"/>
<rect x="312.70" y="345.00" width="13.4" height="88.80" fill="#e9aaf7" stroke="#444" stroke-width="1"/>
<text x="353.00" y="429.3" font-size="7.6" text-anchor="middle" fill="#000">N/A</text>
<rect x="363.05" y="405.20" width="13.4" height="28.60" fill="#a1a1a8" stroke="#555" stroke-width="1"/>
<text x="387.40" y="429.2" font-size="5" text-anchor="middle" fill="#000">0.01</text>
<line x1="386.40" y1="432.3" x2="388.40" y2="432.3" stroke="#666" stroke-width="0.6"/>
<rect x="398.35" y="349.90" width="13.4" height="83.90" fill="#7fdb86" stroke="#333" stroke-width="1"/>
<rect x="416.00" y="343.30" width="13.4" height="90.50" fill="#9fd4fa" stroke="#333" stroke-width="1"/>
<rect x="433.65" y="343.60" width="13.4" height="90.20" fill="#064779" stroke="#222" stroke-width="1"/>
<rect x="451.30" y="342.90" width="13.4" height="90.90" fill="#0d8b83" stroke="#222" stroke-width="1"/>
<rect x="468.95" y="347.40" width="13.4" height="86.40" fill="#9c71f3" stroke="#333" stroke-width="1"/>
<rect x="486.60" y="343.30" width="13.4" height="90.50" fill="#8c86c4" stroke="#333" stroke-width="1"/>
<rect x="504.25" y="345.60" width="13.4" height="88.20" fill="#14dcd2" stroke="#333" stroke-width="1"/>
<rect x="521.90" y="339.40" width="13.4" height="94.40" fill="#e9aaf7" stroke="#444" stroke-width="1"/>
<line x1="160.55" y1="384.4" x2="160.55" y2="416.5" stroke="#2a2a2a" stroke-width="0.85"/>
<line x1="157.05" y1="384.4" x2="164.05" y2="384.4" stroke="#2a2a2a" stroke-width="0.9"/>
<line x1="157.05" y1="416.5" x2="164.05" y2="416.5" stroke="#2a2a2a" stroke-width="0.9"/>
<text x="160.55" y="381.80" font-size="5.3" text-anchor="middle" fill="#222">0.2</text>
<line x1="195.85" y1="345.3" x2="195.85" y2="362.6" stroke="#2a2a2a" stroke-width="0.85"/>
<line x1="192.35" y1="345.3" x2="199.35" y2="345.3" stroke="#2a2a2a" stroke-width="0.9"/>
<line x1="192.35" y1="362.6" x2="199.35" y2="362.6" stroke="#2a2a2a" stroke-width="0.9"/>
<text x="195.85" y="342.70" font-size="5.3" text-anchor="middle" fill="#222">10.6</text>
<text x="195.85" y="338.10" font-size="8.9" text-anchor="middle" fill="#000" stroke="#000" stroke-width="0.12">****</text>
<line x1="213.50" y1="341.3" x2="213.50" y2="367.6" stroke="#2a2a2a" stroke-width="0.85"/>
<line x1="210.00" y1="341.3" x2="217.00" y2="341.3" stroke="#2a2a2a" stroke-width="0.9"/>
<line x1="210.00" y1="367.6" x2="217.00" y2="367.6" stroke="#2a2a2a" stroke-width="0.9"/>
<text x="213.50" y="338.70" font-size="5.3" text-anchor="middle" fill="#222">10.2</text>
<text x="213.50" y="334.10" font-size="8.9" text-anchor="middle" fill="#000" stroke="#000" stroke-width="0.12">***</text>
<line x1="231.15" y1="341.4" x2="231.15" y2="363.6" stroke="#2a2a2a" stroke-width="0.85"/>
<line x1="227.65" y1="341.4" x2="234.65" y2="341.4" stroke="#2a2a2a" stroke-width="0.9"/>
<line x1="227.65" y1="363.6" x2="234.65" y2="363.6" stroke="#2a2a2a" stroke-width="0.9"/>
<text x="231.15" y="338.80" font-size="5.3" text-anchor="middle" fill="#222">11.9</text>
<text x="231.15" y="334.20" font-size="8.9" text-anchor="middle" fill="#000" stroke="#000" stroke-width="0.12">****</text>
<line x1="248.80" y1="338.9" x2="248.80" y2="362.4" stroke="#2a2a2a" stroke-width="0.85"/>
<line x1="245.30" y1="338.9" x2="252.30" y2="338.9" stroke="#2a2a2a" stroke-width="0.9"/>
<line x1="245.30" y1="362.4" x2="252.30" y2="362.4" stroke="#2a2a2a" stroke-width="0.9"/>
<text x="248.80" y="336.30" font-size="5.3" text-anchor="middle" fill="#222">14.2</text>
<text x="248.80" y="331.70" font-size="8.9" text-anchor="middle" fill="#000" stroke="#000" stroke-width="0.12">****</text>
<line x1="266.45" y1="345.0" x2="266.45" y2="360.4" stroke="#2a2a2a" stroke-width="0.85"/>
<line x1="262.95" y1="345.0" x2="269.95" y2="345.0" stroke="#2a2a2a" stroke-width="0.9"/>
<line x1="262.95" y1="360.4" x2="269.95" y2="360.4" stroke="#2a2a2a" stroke-width="0.9"/>
<text x="266.45" y="342.40" font-size="5.3" text-anchor="middle" fill="#222">11.9</text>
<text x="266.45" y="337.80" font-size="8.9" text-anchor="middle" fill="#000" stroke="#000" stroke-width="0.12">****</text>
<line x1="284.10" y1="341.4" x2="284.10" y2="359.4" stroke="#2a2a2a" stroke-width="0.85"/>
<line x1="280.60" y1="341.4" x2="287.60" y2="341.4" stroke="#2a2a2a" stroke-width="0.9"/>
<line x1="280.60" y1="359.4" x2="287.60" y2="359.4" stroke="#2a2a2a" stroke-width="0.9"/>
<text x="284.10" y="338.80" font-size="5.3" text-anchor="middle" fill="#222">14.3</text>
<text x="284.10" y="334.20" font-size="8.9" text-anchor="middle" fill="#000" stroke="#000" stroke-width="0.12">****</text>
<line x1="301.75" y1="347.4" x2="301.75" y2="365.4" stroke="#2a2a2a" stroke-width="0.85"/>
<line x1="298.25" y1="347.4" x2="305.25" y2="347.4" stroke="#2a2a2a" stroke-width="0.9"/>
<line x1="298.25" y1="365.4" x2="305.25" y2="365.4" stroke="#2a2a2a" stroke-width="0.9"/>
<text x="301.75" y="344.80" font-size="5.3" text-anchor="middle" fill="#222">8.7</text>
<text x="301.75" y="340.20" font-size="8.9" text-anchor="middle" fill="#000" stroke="#000" stroke-width="0.12">****</text>
<line x1="319.40" y1="333.6" x2="319.40" y2="356.0" stroke="#2a2a2a" stroke-width="0.85"/>
<line x1="315.90" y1="333.6" x2="322.90" y2="333.6" stroke="#2a2a2a" stroke-width="0.9"/>
<line x1="315.90" y1="356.0" x2="322.90" y2="356.0" stroke="#2a2a2a" stroke-width="0.9"/>
<text x="319.40" y="331.00" font-size="5.3" text-anchor="middle" fill="#222">23.8</text>
<text x="319.40" y="326.40" font-size="8.9" text-anchor="middle" fill="#000" stroke="#000" stroke-width="0.12">****</text>
<line x1="369.75" y1="387.7" x2="369.75" y2="421.3" stroke="#2a2a2a" stroke-width="0.85"/>
<line x1="366.25" y1="387.7" x2="373.25" y2="387.7" stroke="#2a2a2a" stroke-width="0.9"/>
<line x1="366.25" y1="421.3" x2="373.25" y2="421.3" stroke="#2a2a2a" stroke-width="0.9"/>
<text x="369.75" y="385.10" font-size="5.3" text-anchor="middle" fill="#222">0.1</text>
<line x1="405.05" y1="334.6" x2="405.05" y2="364.5" stroke="#2a2a2a" stroke-width="0.85"/>
<line x1="401.55" y1="334.6" x2="408.55" y2="334.6" stroke="#2a2a2a" stroke-width="0.9"/>
<line x1="401.55" y1="364.5" x2="408.55" y2="364.5" stroke="#2a2a2a" stroke-width="0.9"/>
<text x="405.05" y="332.00" font-size="5.3" text-anchor="middle" fill="#222">15.4</text>
<text x="405.05" y="327.40" font-size="8.9" text-anchor="middle" fill="#000" stroke="#000" stroke-width="0.12">***</text>
<line x1="422.70" y1="328.5" x2="422.70" y2="358.2" stroke="#2a2a2a" stroke-width="0.85"/>
<line x1="419.20" y1="328.5" x2="426.20" y2="328.5" stroke="#2a2a2a" stroke-width="0.9"/>
<line x1="419.20" y1="358.2" x2="426.20" y2="358.2" stroke="#2a2a2a" stroke-width="0.9"/>
<text x="422.70" y="325.90" font-size="5.3" text-anchor="middle" fill="#222">26.6</text>
<text x="422.70" y="321.30" font-size="8.9" text-anchor="middle" fill="#000" stroke="#000" stroke-width="0.12">****</text>
<line x1="440.35" y1="331.4" x2="440.35" y2="355.4" stroke="#2a2a2a" stroke-width="0.85"/>
<line x1="436.85" y1="331.4" x2="443.85" y2="331.4" stroke="#2a2a2a" stroke-width="0.9"/>
<line x1="436.85" y1="355.4" x2="443.85" y2="355.4" stroke="#2a2a2a" stroke-width="0.9"/>
<text x="440.35" y="328.80" font-size="5.3" text-anchor="middle" fill="#222">26.4</text>
<text x="440.35" y="324.20" font-size="8.9" text-anchor="middle" fill="#000" stroke="#000" stroke-width="0.12">****</text>
<line x1="458.00" y1="330.3" x2="458.00" y2="354.3" stroke="#2a2a2a" stroke-width="0.85"/>
<line x1="454.50" y1="330.3" x2="461.50" y2="330.3" stroke="#2a2a2a" stroke-width="0.9"/>
<line x1="454.50" y1="354.3" x2="461.50" y2="354.3" stroke="#2a2a2a" stroke-width="0.9"/>
<text x="458.00" y="327.70" font-size="5.3" text-anchor="middle" fill="#222">28.9</text>
<text x="458.00" y="323.10" font-size="8.9" text-anchor="middle" fill="#000" stroke="#000" stroke-width="0.12">****</text>
<line x1="475.65" y1="336.7" x2="475.65" y2="357.6" stroke="#2a2a2a" stroke-width="0.85"/>
<line x1="472.15" y1="336.7" x2="479.15" y2="336.7" stroke="#2a2a2a" stroke-width="0.9"/>
<line x1="472.15" y1="357.6" x2="479.15" y2="357.6" stroke="#2a2a2a" stroke-width="0.9"/>
<text x="475.65" y="334.10" font-size="5.3" text-anchor="middle" fill="#222">18.9</text>
<text x="475.65" y="329.50" font-size="8.9" text-anchor="middle" fill="#000" stroke="#000" stroke-width="0.12">****</text>
<line x1="493.30" y1="332.7" x2="493.30" y2="353.3" stroke="#2a2a2a" stroke-width="0.85"/>
<line x1="489.80" y1="332.7" x2="496.80" y2="332.7" stroke="#2a2a2a" stroke-width="0.9"/>
<line x1="489.80" y1="353.3" x2="496.80" y2="353.3" stroke="#2a2a2a" stroke-width="0.9"/>
<text x="493.30" y="330.10" font-size="5.3" text-anchor="middle" fill="#222">27.0</text>
<text x="493.30" y="325.50" font-size="8.9" text-anchor="middle" fill="#000" stroke="#000" stroke-width="0.12">****</text>
<line x1="510.95" y1="334.3" x2="510.95" y2="356.4" stroke="#2a2a2a" stroke-width="0.85"/>
<line x1="507.45" y1="334.3" x2="514.45" y2="334.3" stroke="#2a2a2a" stroke-width="0.9"/>
<line x1="507.45" y1="356.4" x2="514.45" y2="356.4" stroke="#2a2a2a" stroke-width="0.9"/>
<text x="510.95" y="331.70" font-size="5.3" text-anchor="middle" fill="#222">22.5</text>
<text x="510.95" y="327.10" font-size="8.9" text-anchor="middle" fill="#000" stroke="#000" stroke-width="0.12">****</text>
<line x1="528.60" y1="325.9" x2="528.60" y2="352.4" stroke="#2a2a2a" stroke-width="0.85"/>
<line x1="525.10" y1="325.9" x2="532.10" y2="325.9" stroke="#2a2a2a" stroke-width="0.9"/>
<line x1="525.10" y1="352.4" x2="532.10" y2="352.4" stroke="#2a2a2a" stroke-width="0.9"/>
<text x="528.60" y="323.30" font-size="5.3" text-anchor="middle" fill="#222">39.2</text>
<text x="528.60" y="318.70" font-size="8.9" text-anchor="middle" fill="#000" stroke="#000" stroke-width="0.12">****</text>
<line x1="127.9" y1="301" x2="127.9" y2="434.8" stroke="#000" stroke-width="2"/>
<line x1="123.1" y1="433.8" x2="543" y2="433.8" stroke="#000" stroke-width="2"/>
<line x1="123.1" y1="301.91" x2="127.9" y2="301.91" stroke="#000" stroke-width="1.6"/>
<text x="122.2" y="302.41" font-size="5.8" font-weight="bold" text-anchor="end" fill="#111">3</text>
<text x="118.17" y="304.81" font-size="7.9" font-weight="bold" text-anchor="end" fill="#000">10</text>
<line x1="123.1" y1="328.29" x2="127.9" y2="328.29" stroke="#000" stroke-width="1.6"/>
<text x="122.2" y="328.79" font-size="5.8" font-weight="bold" text-anchor="end" fill="#111">2</text>
<text x="118.17" y="331.19" font-size="7.9" font-weight="bold" text-anchor="end" fill="#000">10</text>
<line x1="123.1" y1="354.67" x2="127.9" y2="354.67" stroke="#000" stroke-width="1.6"/>
<text x="122.2" y="355.17" font-size="5.8" font-weight="bold" text-anchor="end" fill="#111">1</text>
<text x="118.17" y="357.57" font-size="7.9" font-weight="bold" text-anchor="end" fill="#000">10</text>
<line x1="123.1" y1="381.05" x2="127.9" y2="381.05" stroke="#000" stroke-width="1.6"/>
<text x="122.2" y="381.55" font-size="5.8" font-weight="bold" text-anchor="end" fill="#111">0</text>
<text x="118.17" y="383.95" font-size="7.9" font-weight="bold" text-anchor="end" fill="#000">10</text>
<line x1="123.1" y1="407.43" x2="127.9" y2="407.43" stroke="#000" stroke-width="1.6"/>
<text x="122.2" y="407.93" font-size="5.8" font-weight="bold" text-anchor="end" fill="#111">-1</text>
<text x="116.24" y="410.33" font-size="7.9" font-weight="bold" text-anchor="end" fill="#000">10</text>
<line x1="123.1" y1="433.81" x2="127.9" y2="433.81" stroke="#000" stroke-width="1.6"/>
<text x="122.2" y="434.31" font-size="5.8" font-weight="bold" text-anchor="end" fill="#111">-2</text>
<text x="116.24" y="436.71" font-size="7.9" font-weight="bold" text-anchor="end" fill="#000">10</text>
<line x1="231.15" y1="433" x2="231.15" y2="438.4" stroke="#000" stroke-width="1.6"/>
<text x="231.15" y="446.2" font-size="7.9" font-weight="bold" text-anchor="middle" fill="#000">JN.1 Vaccine</text>
<line x1="440.35" y1="433" x2="440.35" y2="438.4" stroke="#000" stroke-width="1.6"/>
<text x="440.35" y="446.2" font-size="7.9" font-weight="bold" text-anchor="middle" fill="#000">KP.2 Vaccine</text>
<text transform="translate(101.6,366) rotate(-90)" font-size="7.8" font-weight="bold" text-anchor="middle" fill="#000">GMR Relative to XBB.1.5 Vaccine</text>
</svg></body></html>
